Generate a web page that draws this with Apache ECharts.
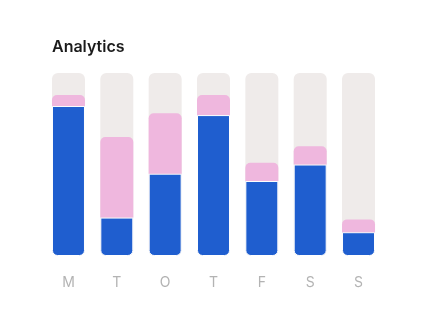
<!DOCTYPE html>
<html>
<head>
<meta charset="utf-8">
<style>
  html, body { margin: 0; padding: 0; background: #ffffff; }
  #chart { width: 433px; height: 323px; }
</style>
<script src="https://cdn.jsdelivr.net/npm/echarts@6/dist/echarts.min.js"></script>
</head>
<body>
<div id="chart"></div>
<script>
// Weekly analytics: two stacked parts per day on a 0–100 track
const days = ['M', 'T', 'O', 'T', 'F', 'S', 'S'];
const primaryValues = [82, 21, 45, 77, 41, 50, 13];
const secondaryValues = [6, 44, 33, 11, 10, 10, 7];
const scaleMax = 100;

const chart = echarts.init(document.getElementById('chart'), null, { renderer: 'canvas' });

chart.setOption({
  backgroundColor: '#ffffff',
  animation: false,
  title: {
    text: 'Analytics',
    left: 52,
    top: 39,
    padding: 0,
    textStyle: {
      fontFamily: 'Inter',
      fontSize: 16,
      fontWeight: 600,
      color: '#1b1b1b'
    }
  },
  grid: { left: 44.3, right: 50.3, top: 73, bottom: 67 },
  xAxis: {
    type: 'category',
    data: days,
    axisLine: { show: false },
    axisTick: { show: false },
    axisLabel: {
      margin: 20,
      fontFamily: 'Inter',
      fontSize: 14,
      color: '#b3b3b3'
    }
  },
  yAxis: {
    type: 'value',
    min: 0,
    max: scaleMax,
    show: false,
    splitLine: { show: false }
  },
  series: [
    {
      type: 'bar',
      stack: 'day',
      data: primaryValues,
      barWidth: 33,
      showBackground: true,
      backgroundStyle: { color: '#efebea', borderRadius: 6 },
      itemStyle: {
        color: '#1f5ecf',
        borderColor: '#ffffff',
        borderWidth: 1,
        borderRadius: [0, 0, 5, 5]
      }
    },
    {
      type: 'bar',
      stack: 'day',
      data: secondaryValues,
      barWidth: 33,
      itemStyle: {
        color: '#efb7de',
        borderRadius: [5, 5, 0, 0]
      }
    }
  ]
});
</script>
</body>
</html>
